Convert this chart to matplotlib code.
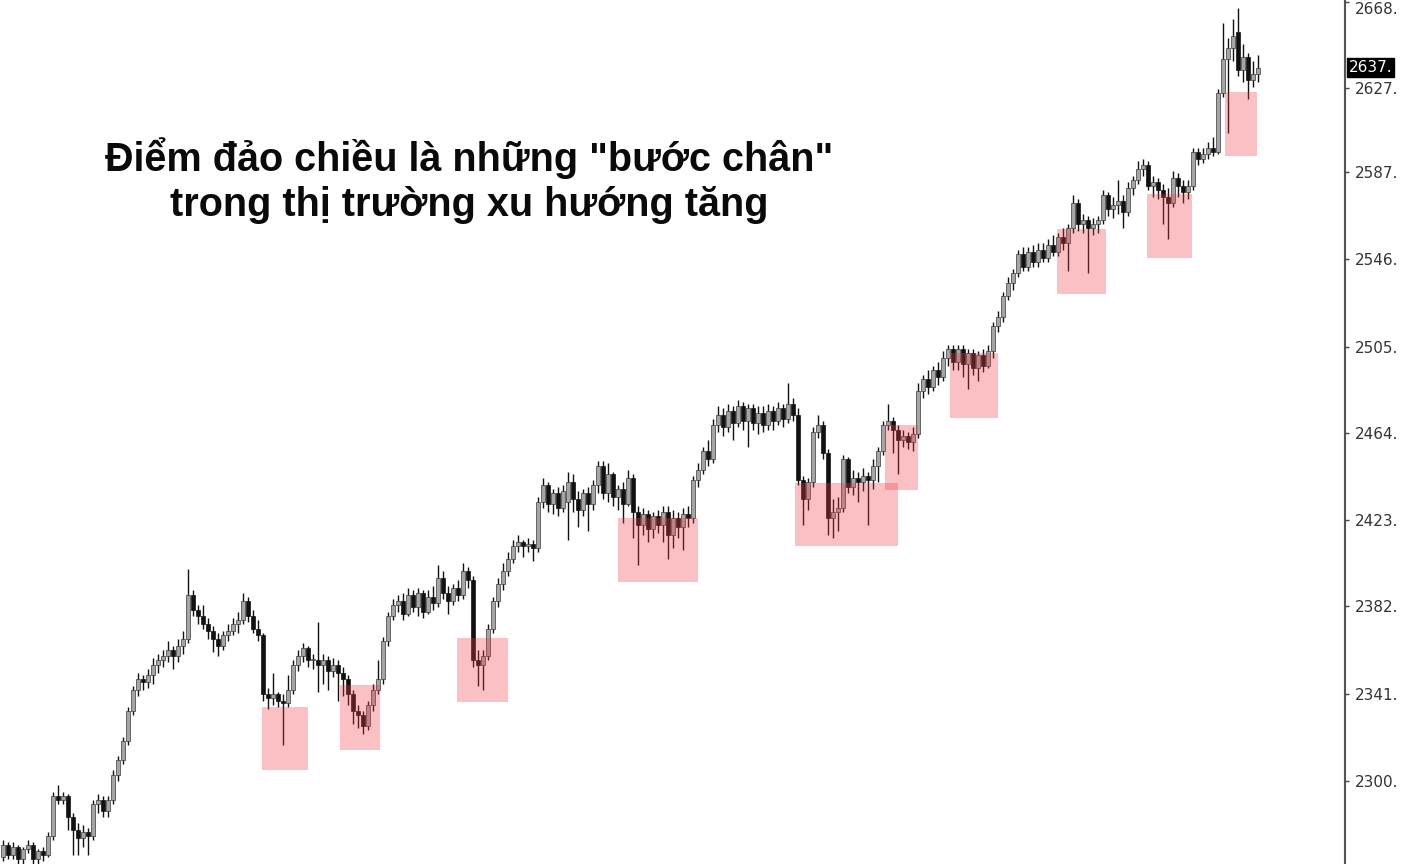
import matplotlib
matplotlib.use("Agg")
import matplotlib.pyplot as plt
import numpy as np
from matplotlib.patches import Rectangle
from matplotlib.transforms import blended_transform_factory

# ---------------- data (price readings per candle) ----------------
opens = [
    2264, 2270, 2265, 2269, 2263, 2268, 2270, 2263, 2267, 2265,
    2274, 2293, 2291, 2293, 2283, 2277, 2273, 2276, 2274, 2289,
    2291, 2286, 2291, 2303, 2310, 2319, 2333, 2343, 2348, 2347,
    2350, 2355, 2357, 2359, 2362, 2359, 2364, 2367, 2388, 2381,
    2378, 2374, 2371, 2367, 2364, 2369, 2371, 2374, 2376, 2385,
    2378, 2372, 2369, 2341, 2339, 2341, 2338, 2337, 2343, 2355,
    2359, 2363, 2357, 2357, 2355, 2357, 2352, 2355, 2351, 2348,
    2341, 2333, 2331, 2326, 2336, 2343, 2348, 2366, 2378, 2383,
    2385, 2379, 2388, 2382, 2389, 2380, 2387, 2384, 2396, 2389,
    2385, 2391, 2388, 2399, 2395, 2357, 2355, 2359, 2372, 2385,
    2393, 2399, 2405, 2411, 2413, 2411, 2412, 2410, 2432, 2440,
    2431, 2436, 2429, 2432, 2441, 2433, 2428, 2436, 2431, 2440,
    2449, 2436, 2445, 2434, 2438, 2431, 2443, 2427, 2421, 2426,
    2419, 2425, 2421, 2427, 2416, 2424, 2420, 2426, 2424, 2442,
    2447, 2456, 2452, 2468, 2473, 2467, 2475, 2469, 2477, 2470,
    2476, 2469, 2474, 2468, 2475, 2470, 2476, 2471, 2478, 2473,
    2442, 2433, 2441, 2465, 2468, 2455, 2424, 2427, 2429, 2452,
    2439, 2443, 2441, 2444, 2442, 2449, 2456, 2468, 2470, 2466,
    2461, 2463, 2460, 2464, 2484, 2490, 2486, 2494, 2491, 2500,
    2504, 2498, 2504, 2497, 2502, 2495, 2501, 2496, 2503, 2515,
    2519, 2529, 2535, 2540, 2549, 2543, 2550, 2545, 2551, 2547,
    2553, 2550, 2557, 2554, 2561, 2573, 2563, 2565, 2561, 2563,
    2565, 2577, 2570, 2572, 2574, 2569, 2580, 2584, 2589, 2591,
    2581, 2583, 2579, 2576, 2573, 2585, 2581, 2578, 2581, 2597,
    2594, 2596, 2599, 2597, 2625, 2641, 2646, 2654, 2636, 2642,
    2631, 2634,
]
highs = [
    2272, 2271, 2271, 2270, 2269, 2272, 2271, 2268, 2269, 2276,
    2295, 2298, 2295, 2294, 2285, 2280, 2279, 2278, 2291, 2294,
    2293, 2293, 2305, 2312, 2321, 2335, 2345, 2351, 2350, 2353,
    2358, 2360, 2362, 2366, 2364, 2367, 2371, 2400, 2390, 2383,
    2383, 2377, 2373, 2370, 2371, 2374, 2377, 2380, 2389, 2387,
    2381, 2376, 2370, 2344, 2351, 2342, 2341, 2350, 2357, 2362,
    2365, 2364, 2360, 2375, 2360, 2359, 2358, 2357, 2354, 2350,
    2343, 2336, 2333, 2338, 2346, 2357, 2368, 2380, 2386, 2388,
    2389, 2391, 2390, 2391, 2390, 2390, 2392, 2402, 2399, 2392,
    2393, 2395, 2403, 2401, 2397, 2362, 2362, 2374, 2387, 2396,
    2403, 2408, 2414, 2416, 2414, 2415, 2414, 2434, 2443, 2441,
    2438, 2439, 2440, 2446, 2445, 2437, 2438, 2439, 2442, 2451,
    2451, 2450, 2446, 2440, 2441, 2447, 2445, 2430, 2429, 2428,
    2427, 2428, 2430, 2430, 2428, 2427, 2429, 2430, 2444, 2450,
    2458, 2461, 2471, 2477, 2476, 2478, 2477, 2480, 2479, 2478,
    2478, 2477, 2477, 2478, 2477, 2479, 2478, 2488, 2481, 2476,
    2444, 2443, 2467, 2473, 2470, 2457, 2433, 2434, 2454, 2453,
    2447, 2446, 2448, 2446, 2452, 2458, 2470, 2478, 2472, 2468,
    2466, 2465, 2467, 2488, 2492, 2494, 2496, 2498, 2503, 2506,
    2506, 2506, 2506, 2504, 2504, 2503, 2504, 2506, 2517, 2522,
    2531, 2538, 2542, 2551, 2552, 2552, 2553, 2554, 2554, 2556,
    2558, 2559, 2561, 2563, 2577, 2575, 2568, 2567, 2566, 2567,
    2579, 2578, 2576, 2584, 2577, 2583, 2586, 2593, 2594, 2593,
    2586, 2585, 2582, 2580, 2588, 2587, 2584, 2584, 2599, 2599,
    2599, 2602, 2604, 2627, 2658, 2651, 2660, 2665, 2648, 2644,
    2640, 2643,
]
lows = [
    2262, 2263, 2263, 2261, 2261, 2266, 2261, 2261, 2262, 2264,
    2272, 2289, 2289, 2277, 2265, 2265, 2269, 2265, 2272, 2285,
    2283, 2283, 2289, 2300, 2308, 2317, 2331, 2340, 2343, 2344,
    2346, 2351, 2354, 2356, 2353, 2356, 2360, 2365, 2378, 2374,
    2372, 2367, 2361, 2359, 2362, 2366, 2369, 2370, 2374, 2375,
    2370, 2366, 2338, 2334, 2336, 2335, 2317, 2335, 2341, 2352,
    2356, 2354, 2353, 2342, 2346, 2343, 2349, 2338, 2340, 2336,
    2327, 2325, 2322, 2324, 2333, 2341, 2346, 2364, 2376, 2380,
    2376, 2378, 2380, 2378, 2377, 2379, 2381, 2382, 2386, 2379,
    2383, 2385, 2386, 2391, 2354, 2345, 2343, 2357, 2370, 2382,
    2390, 2397, 2403, 2408, 2406, 2408, 2404, 2408, 2429, 2427,
    2426, 2425, 2427, 2414, 2427, 2420, 2425, 2418, 2428, 2436,
    2433, 2432, 2430, 2428, 2422, 2430, 2415, 2402, 2416, 2413,
    2415, 2417, 2413, 2405, 2410, 2415, 2409, 2420, 2422, 2439,
    2445, 2449, 2450, 2465, 2463, 2465, 2461, 2467, 2466, 2458,
    2466, 2464, 2465, 2466, 2466, 2468, 2467, 2469, 2470, 2440,
    2421, 2428, 2439, 2462, 2452, 2416, 2415, 2418, 2427, 2436,
    2435, 2432, 2437, 2421, 2438, 2441, 2454, 2466, 2455, 2445,
    2458, 2457, 2456, 2462, 2481, 2483, 2484, 2487, 2489, 2496,
    2494, 2494, 2491, 2485, 2492, 2489, 2493, 2495, 2500, 2512,
    2517, 2527, 2532, 2538, 2541, 2541, 2543, 2543, 2545, 2545,
    2548, 2548, 2551, 2541, 2559, 2560, 2559, 2540, 2558, 2559,
    2563, 2567, 2566, 2568, 2561, 2567, 2577, 2582, 2586, 2579,
    2576, 2575, 2563, 2556, 2571, 2576, 2573, 2575, 2579, 2591,
    2592, 2594, 2595, 2596, 2623, 2606, 2640, 2633, 2630, 2622,
    2628, 2630,
]
closes = [
    2270, 2265, 2269, 2263, 2268, 2270, 2263, 2267, 2265, 2274,
    2293, 2291, 2293, 2283, 2277, 2273, 2276, 2274, 2289, 2291,
    2286, 2291, 2303, 2310, 2319, 2333, 2343, 2348, 2347, 2350,
    2355, 2357, 2359, 2362, 2359, 2364, 2367, 2388, 2381, 2378,
    2374, 2371, 2367, 2364, 2369, 2371, 2374, 2376, 2385, 2378,
    2372, 2369, 2341, 2339, 2341, 2338, 2337, 2343, 2355, 2359,
    2363, 2357, 2357, 2355, 2357, 2352, 2355, 2351, 2348, 2341,
    2333, 2331, 2326, 2336, 2343, 2348, 2366, 2378, 2383, 2385,
    2379, 2388, 2382, 2389, 2380, 2387, 2384, 2396, 2389, 2385,
    2391, 2388, 2399, 2395, 2357, 2355, 2359, 2372, 2385, 2393,
    2399, 2405, 2411, 2413, 2411, 2412, 2410, 2432, 2440, 2431,
    2436, 2429, 2437, 2441, 2433, 2428, 2436, 2431, 2440, 2449,
    2436, 2445, 2434, 2438, 2431, 2443, 2427, 2421, 2426, 2419,
    2425, 2421, 2427, 2416, 2424, 2420, 2426, 2424, 2442, 2447,
    2456, 2452, 2468, 2473, 2467, 2475, 2469, 2477, 2470, 2476,
    2469, 2474, 2468, 2475, 2470, 2476, 2471, 2478, 2473, 2442,
    2433, 2441, 2465, 2468, 2455, 2424, 2427, 2429, 2452, 2439,
    2443, 2441, 2444, 2442, 2449, 2456, 2468, 2470, 2466, 2461,
    2463, 2460, 2464, 2484, 2490, 2486, 2494, 2491, 2500, 2504,
    2498, 2504, 2497, 2502, 2495, 2501, 2496, 2503, 2515, 2519,
    2529, 2535, 2540, 2549, 2543, 2550, 2545, 2551, 2547, 2553,
    2550, 2557, 2554, 2561, 2573, 2563, 2565, 2561, 2563, 2565,
    2577, 2570, 2572, 2574, 2569, 2580, 2584, 2589, 2591, 2581,
    2583, 2579, 2576, 2573, 2585, 2581, 2578, 2581, 2597, 2594,
    2596, 2599, 2597, 2625, 2641, 2646, 2652, 2636, 2642, 2631,
    2634, 2637,
]

# highlighted pull-back zones (candle index span, price span)
zone_start = [51.8, 67.4, 90.8, 123.0, 158.4, 176.4, 189.4, 210.8, 228.8, 244.4]
zone_end = [61.0, 75.4, 101.0, 139.0, 179.0, 183.0, 199.0, 220.6, 237.8, 250.8]
zone_low = [2305.2, 2314.6, 2337.3, 2394.0, 2411.0, 2437.4, 2471.5, 2530.0, 2547.0, 2595.2]
zone_high = [2334.9, 2345.3, 2367.5, 2424.2, 2440.7, 2468.1, 2502.2, 2560.7, 2577.3, 2625.4]

tick_values = [2300.0, 2341.1, 2382.7, 2423.3, 2464.4, 2505.0, 2546.6, 2587.7, 2627.3, 2668.0]
tick_labels = ["2300.", "2341.", "2382.", "2423.", "2464.", "2505.", "2546.", "2587.", "2627.", "2668."]
last_price_label = "2637."

title_line1 = 'Điểm đảo chiều là những "bước chân"'
title_line2 = "trong thị trường xu hướng tăng"

# ---------------- figure ----------------
W, H = 1401, 864
fig = plt.figure(figsize=(W / 100, H / 100), dpi=100)
fig.patch.set_facecolor("white")
ax = fig.add_axes([0, 0, 1345 / W, 1])

o = np.array(opens, float)
h = np.array(highs, float)
l = np.array(lows, float)
c = np.array(closes, float)
x = np.arange(len(c))
bull = c >= o

ax.vlines(x, l, h, color="#111111", linewidth=1.0, zorder=2)
bottom = np.minimum(o, c)
height = np.maximum(np.abs(c - o), 0.6)
ax.bar(x[bull], height[bull], bottom=bottom[bull], width=0.66,
       color="#a5a5a5", edgecolor="#3a3a3a", linewidth=0.5, zorder=3)
ax.bar(x[~bull], height[~bull], bottom=bottom[~bull], width=0.66,
       color="#111111", edgecolor="#111111", linewidth=0.5, zorder=3)

for x0, x1, lo, hi in zip(zone_start, zone_end, zone_low, zone_high):
    ax.add_patch(Rectangle((x0, lo), x1 - x0, hi - lo, facecolor="#f03c46",
                           edgecolor="none", alpha=0.32, zorder=4))

ax.set_xlim(-0.6, 268.4)
ax.set_ylim(2260.8, 2668.9)

ax.yaxis.tick_right()
ax.set_yticks(tick_values)
ax.set_yticklabels(tick_labels)
ax.tick_params(axis="y", direction="out", length=3, width=1, colors="#444444",
               labelsize=11, pad=4, labelcolor="#333333")
# keep the top label inside the canvas
ax.get_yticklabels()[-1].set_verticalalignment("top")
ax.set_xticks([])
for s in ["top", "left", "bottom"]:
    ax.spines[s].set_visible(False)
ax.spines["right"].set_color("#555555")
ax.spines["right"].set_linewidth(1.5)

trans = blended_transform_factory(ax.transAxes, ax.transData)
ax.text(1.0 + 4 / 1345, c[-1], last_price_label, transform=trans, ha="left", va="center",
        color="white", fontsize=11, clip_on=False, zorder=6,
        bbox=dict(boxstyle="square,pad=0.12", facecolor="black", edgecolor="black"))

fam = ["Liberation Sans", "DejaVu Sans"]
fig.text(469 / W, 1 - 158 / H, title_line1, ha="center", va="center",
         fontsize=28.5, fontweight="bold", family=fam, color="#0a0a0a")
fig.text(469 / W, 1 - 205 / H, title_line2, ha="center", va="center",
         fontsize=28.5, fontweight="bold", family=fam, color="#0a0a0a")

fig.savefig("out.png", dpi=100, facecolor="white")
